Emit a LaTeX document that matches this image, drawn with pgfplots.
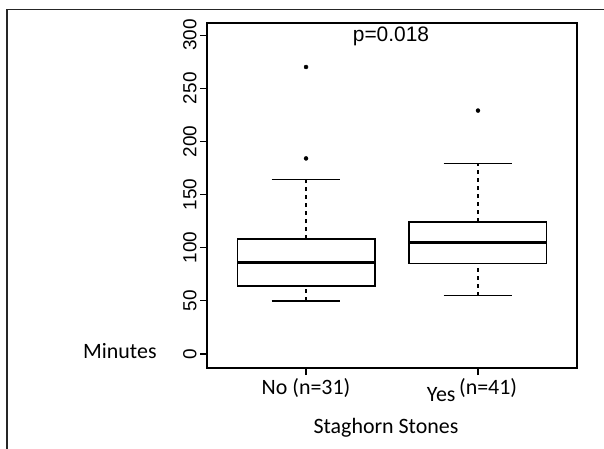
\documentclass[border=0pt]{standalone}
\usepackage{pgfplots}
\pgfplotsset{compat=1.18}
\usepackage{fontspec}
\setmainfont{Carlito}
\newfontfamily\arialf{Liberation Sans}
\begin{document}
\begin{tikzpicture}
\path[use as bounding box] (0bp,0bp) rectangle (604bp,449bp);
\draw[line width=1.5bp, black!85] (7bp,0bp) -- (7bp,439.5bp) -- (604bp,439.5bp);
\node[anchor=base west, font=\fontsize{22}{22}\selectfont, inner sep=0pt] at (83bp,90bp) {Minutes};
\begin{axis}[
  at={(207bp,81bp)}, anchor=south west,
  width=370bp, height=345bp, scale only axis,
  xmin=0.424, xmax=2.576, ymin=-13.2, ymax=311.4,
  axis line style={line width=1.3bp},
  xtick={1,2}, xticklabels={No (n=31), \hspace*{-12bp}\raisebox{-9bp}{Yes}\,\raisebox{-2bp}{(n=41)}},
  ytick={0,50,...,300},
  tick align=outside, major tick length=7bp,
  xtick pos=bottom, ytick pos=left,
  tick style={line width=1.2bp, black},
  /pgf/number format/assume math mode=true,
  yticklabel style={font=\arialf\fontsize{19}{19}\selectfont, rotate=90, anchor=south},
  xticklabel style={font=\fontsize{22}{22}\selectfont},
  xlabel={Staghorn Stones},
  xlabel style={at={(axis description cs:0.5,0)}, anchor=base, yshift=-65bp, xshift=-6bp, font=\fontsize{22}{22}\selectfont},
  line join=miter,
]
% No (n=31): whiskers 50/164, box 64-108, median 86
\addplot[black, line width=1.4bp] coordinates {(0.6,64) (1.4,64) (1.4,108) (0.6,108) (0.6,64)};
\addplot[black, line width=3.5bp] coordinates {(0.6,86) (1.4,86)};
\addplot[black, line width=1.4bp, dash pattern=on 4bp off 4bp] coordinates {(1,108) (1,164)};
\addplot[black, line width=1.4bp, dash pattern=on 4bp off 4bp] coordinates {(1,50) (1,64)};
\addplot[black, line width=1.4bp] coordinates {(0.8,164) (1.2,164)};
\addplot[black, line width=1.4bp] coordinates {(0.8,50) (1.2,50)};
% Yes (n=41): whiskers 55/179, box 85-124, median 105
\addplot[black, line width=1.4bp] coordinates {(1.6,85) (2.4,85) (2.4,124) (1.6,124) (1.6,85)};
\addplot[black, line width=3.5bp] coordinates {(1.6,105) (2.4,105)};
\addplot[black, line width=1.4bp, dash pattern=on 4bp off 4bp] coordinates {(2,124) (2,179)};
\addplot[black, line width=1.4bp, dash pattern=on 4bp off 4bp] coordinates {(2,55) (2,85)};
\addplot[black, line width=1.4bp] coordinates {(1.8,179) (2.2,179)};
\addplot[black, line width=1.4bp] coordinates {(1.8,55) (2.2,55)};
% outliers
\addplot[only marks, mark=*, mark size=2bp, black] coordinates {(1,270) (1,184) (2,229)};
\node[anchor=base, font=\arialf\fontsize{21}{21}\selectfont] at (axis cs:1.494,294.4) {p=0.018};
\end{axis}
\end{tikzpicture}
\end{document}
